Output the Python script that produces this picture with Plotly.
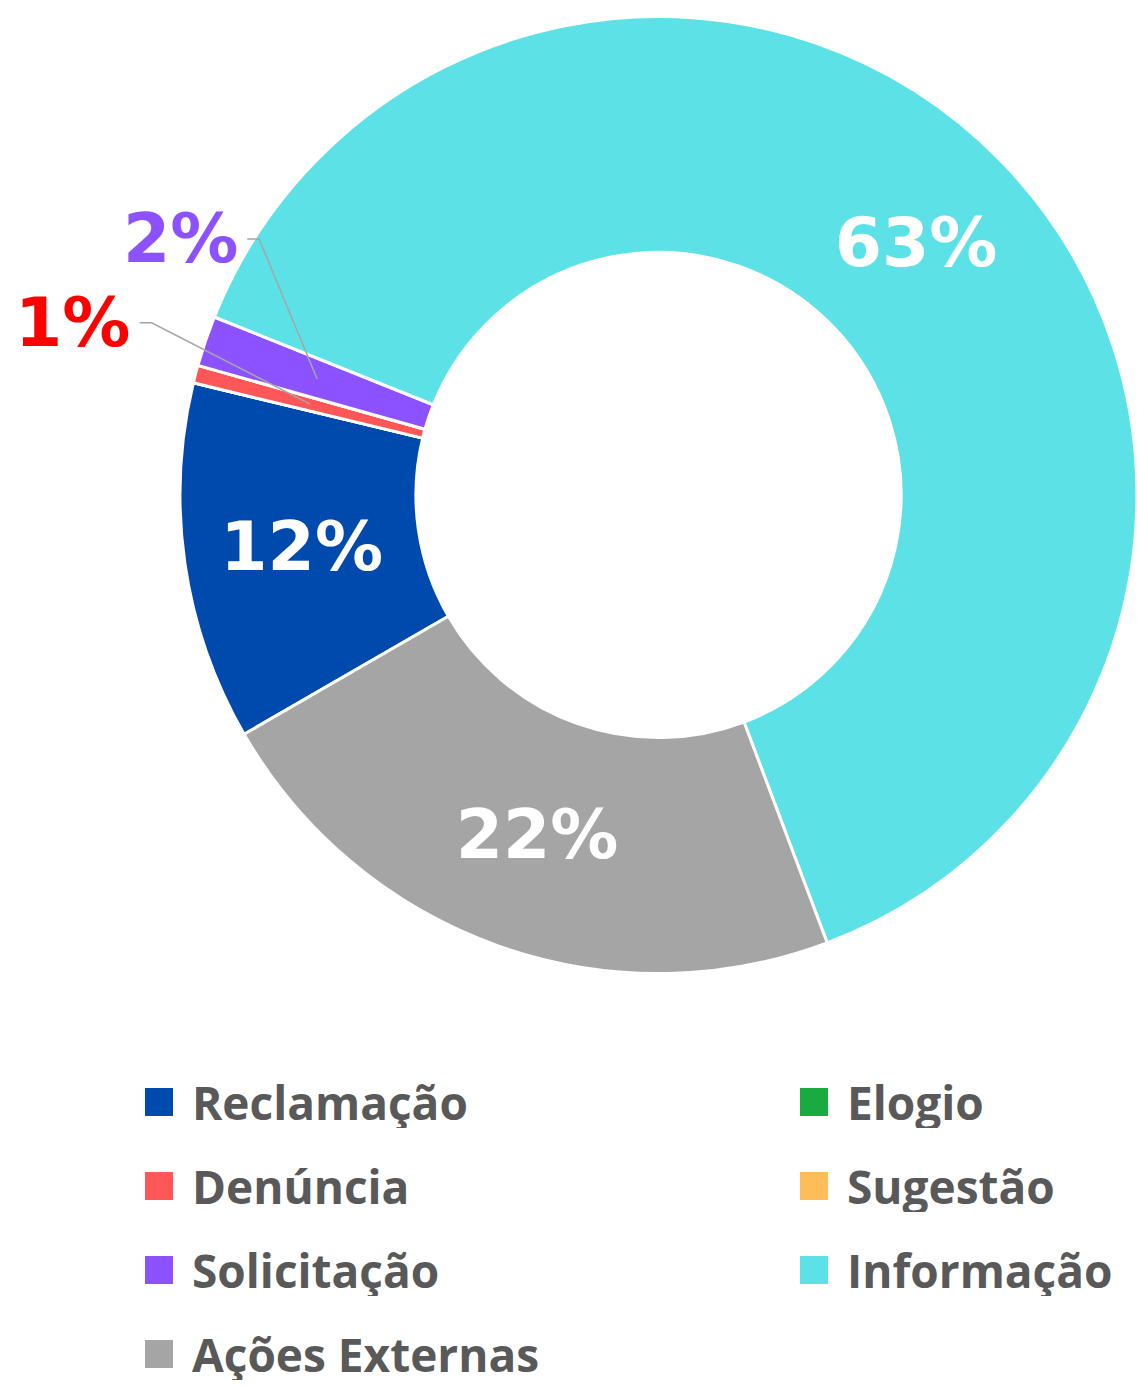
import math
import plotly.graph_objects as go

# ---- data ----
categories = ["Reclamação", "Elogio", "Denúncia", "Sugestão", "Solicitação", "Informação", "Ações Externas"]
values = [12.1, 0, 0.6, 0, 1.7, 63.2, 22.4]
colors = ["#004AAD", "#1AAB40", "#FF5757", "#FFBD59", "#8C52FF", "#5CE1E6", "#A5A5A5"]

# ---- layout / style constants ----
W, H = 1137, 1387
ROTATION = 240
HOLE = 0.507
PIE_LEFT, PIE_TOP, PIE_SIZE = 180, 15, 960
SMALL = 0.05
PCT_FONT = dict(family="DejaVu Sans", size=68, weight="bold")
outside_label_colors = {"Denúncia": "#FF0000", "Solicitação": "#8C52FF"}
outside_label_offsets = {"Denúncia": (-237, -81), "Solicitação": (-137, -140)}
LABEL_HALF_W = 67
ELBOW = 12

total = sum(values)
pct = [v / total for v in values]
textpos = ["inside" if p >= SMALL else "none" for p in pct]
templates = ["%{percent:.0%}" if p >= SMALL else "" for p in pct]

fig = go.Figure(
    go.Pie(
        labels=categories,
        values=values,
        hole=HOLE,
        sort=False,
        direction="clockwise",
        rotation=ROTATION,
        marker=dict(colors=colors, line=dict(color="white", width=3)),
        textposition=textpos,
        texttemplate=templates,
        insidetextorientation="horizontal",
        textfont=dict(color="white", **PCT_FONT),
        showlegend=False,
        domain=dict(x=[PIE_LEFT / W, 1], y=[1 - (PIE_TOP + PIE_SIZE) / H, 1 - PIE_TOP / H]),
        hoverinfo="label+percent",
    )
)


def px2paper(x, y):
    return x / W, 1 - y / H


# outside labels for the thin slices, with elbow leader lines to the slice middle
cx = PIE_LEFT + min(PIE_SIZE, W - PIE_LEFT) / 2
cy = PIE_TOP + PIE_SIZE / 2
R = min(PIE_SIZE, W - PIE_LEFT) / 2
r_mid = R * (1 + HOLE) / 2
cum = 0.0
for cat, v, p in zip(categories, values, pct):
    start = ROTATION + 360 * cum / total
    mid = math.radians(start + 180 * v / total)
    cum += v
    if v > 0 and p < SMALL:
        tx = cx + r_mid * math.sin(mid)
        ty = cy - r_mid * math.cos(mid)
        ax, ay = outside_label_offsets[cat]
        lx, ly = tx + ax, ty + ay
        ex = lx + LABEL_HALF_W
        p0 = px2paper(ex, ly)
        p1 = px2paper(ex + ELBOW, ly)
        p2 = px2paper(tx, ty)
        fig.add_shape(
            type="path", xref="paper", yref="paper",
            path=f"M {p0[0]},{p0[1]} L {p1[0]},{p1[1]} L {p2[0]},{p2[1]}",
            line=dict(color="#A6A6A6", width=1.5),
        )
        lp = px2paper(lx, ly)
        fig.add_annotation(
            x=lp[0], y=lp[1], xref="paper", yref="paper",
            xanchor="center", yanchor="middle",
            text=f"{round(p * 100)}%", showarrow=False,
            font=dict(color=outside_label_colors[cat], **PCT_FONT),
        )

# legend (two columns)
LEG_COL_X = [145, 800]
LEG_ROW0 = 1102
LEG_ROW_STEP = 84
SW = 28
TEXT_GAP = 17
for i, (cat, col) in enumerate(zip(categories, colors)):
    r, c = divmod(i, 2)
    x0 = LEG_COL_X[c]
    yc = LEG_ROW0 + r * LEG_ROW_STEP
    fig.add_shape(
        type="rect", xref="paper", yref="paper",
        x0=x0 / W, x1=(x0 + SW) / W, y0=1 - (yc + SW / 2) / H, y1=1 - (yc - SW / 2) / H,
        fillcolor=col, line=dict(width=0), layer="above",
    )
    fig.add_annotation(
        xref="paper", yref="paper", x=(x0 + SW + TEXT_GAP) / W, y=1 - yc / H,
        xanchor="left", yanchor="middle", height=52, valign="middle",
        text=cat, showarrow=False,
        font=dict(family="Open Sans", size=46, color="#595959", weight="bold"),
    )

fig.update_layout(
    width=W, height=H, autosize=False,
    margin=dict(l=0, r=0, t=0, b=0),
    paper_bgcolor="white", plot_bgcolor="white",
)

fig.write_html("out.html")
